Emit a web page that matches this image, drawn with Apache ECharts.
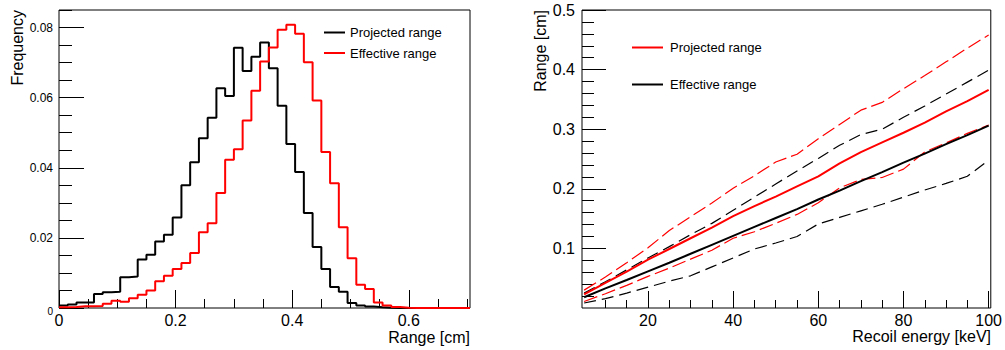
<!DOCTYPE html>
<html>
<head>
<meta charset="utf-8">
<script src="https://cdn.jsdelivr.net/npm/echarts@6/dist/echarts.min.js"></script>
<style>
html,body{margin:0;padding:0;background:#fff;}
#chart{width:1005px;height:350px;}
</style>
</head>
<body>
<div id="chart"></div>
<script>
// ---------- Data: left panel (histograms) ----------
const rangeBinWidth = 0.015; // cm, 47 bins from 0 to 0.705
const projectedRangeFreq = [
  0.0007, 0.0010, 0.0016, 0.0016, 0.0040, 0.0045, 0.0046, 0.0088, 0.0090, 0.0138,
  0.0152, 0.0190, 0.0209, 0.0258, 0.0350, 0.0416, 0.0484, 0.0543, 0.0627, 0.0605,
  0.0742, 0.0676, 0.0717, 0.0757, 0.0684, 0.0577, 0.0468, 0.0388, 0.0271, 0.0174,
  0.0111, 0.0060, 0.0046, 0.0014, 0.0007, 0.0004, 0.0002, 0.0001, 0, 0,
  0, 0, 0, 0, 0, 0, 0
];
const effectiveRangeFreq = [
  0.0002, 0.0003, 0.0005, 0.0005, 0.0006, 0.0012, 0.0021, 0.0018, 0.0028, 0.0038,
  0.0050, 0.0076, 0.0092, 0.0111, 0.0128, 0.0157, 0.0216, 0.0242, 0.0328, 0.0423,
  0.0453, 0.0535, 0.0620, 0.0703, 0.0743, 0.0794, 0.0808, 0.0782, 0.0701, 0.0592,
  0.0445, 0.0356, 0.0230, 0.0142, 0.0066, 0.0054, 0.0016, 0.0007, 0.0003, 0.0001,
  0, 0, 0, 0, 0, 0, 0
];
const leftXMajor = [0, 0.2, 0.4, 0.6];
const leftXMinor = [0.05,0.1,0.15,0.25,0.3,0.35,0.45,0.5,0.55,0.65,0.7];
const leftYMajor = [0, 0.02, 0.04, 0.06, 0.08];
const leftYMinor = [0.005,0.01,0.015,0.025,0.03,0.035,0.045,0.05,0.055,0.065,0.07,0.075,0.085];

// ---------- Data: right panel (range vs recoil energy) ----------
const recoilEnergy = [5,10,15,20,25,30,35,40,45,50,55,60,65,70,75,80,85,90,95,100];
const projectedMean  = [0.023,0.042,0.061,0.081,0.099,0.117,0.135,0.154,0.171,0.187,0.204,0.221,0.2425,0.2615,0.278,0.294,0.311,0.330,0.347,0.366];
const projectedUpper = [0.030,0.052,0.076,0.101,0.130,0.153,0.176,0.201,0.222,0.245,0.258,0.284,0.308,0.332,0.345,0.368,0.390,0.413,0.436,0.458];
const projectedLower = [0.011,0.024,0.038,0.053,0.067,0.082,0.097,0.117,0.128,0.142,0.157,0.1765,0.2017,0.2156,0.219,0.233,0.262,0.277,0.293,0.307];
const effectiveMean  = [0.018,0.033,0.047,0.0615,0.076,0.091,0.106,0.121,0.136,0.151,0.166,0.182,0.197,0.213,0.228,0.244,0.259,0.275,0.290,0.306];
const effectiveUpper = [0.025,0.044,0.064,0.084,0.103,0.123,0.142,0.164,0.186,0.208,0.230,0.251,0.273,0.291,0.300,0.320,0.339,0.359,0.379,0.399];
const effectiveLower = [0.0084,0.0156,0.025,0.035,0.045,0.054,0.069,0.084,0.099,0.109,0.120,0.141,0.152,0.163,0.174,0.186,0.198,0.209,0.221,0.248];
const rightXMajor = [20, 40, 60, 80, 100];
const rightXMinor = [10,15,25,30,35,45,50,55,65,70,75,85,90,95];
const rightYMajor = [0.1, 0.2, 0.3, 0.4, 0.5];
const rightYMinor = [0.02,0.04,0.06,0.08,0.12,0.14,0.16,0.18,0.22,0.24,0.26,0.28,0.32,0.34,0.36,0.38,0.42,0.44,0.46,0.48];

// ---------- Build ----------
const FONT = "'Liberation Sans', Arial, Helvetica, sans-serif";
function histPoints(vals) {
  const pts = vals.map((v, i) => [i * rangeBinWidth, v]);
  pts.push([vals.length * rangeBinWidth, vals[vals.length - 1]]);
  return pts;
}
function pairs(xs, ys) { return xs.map((x, i) => [x, ys[i]]); }

function makeAxis(gridIndex, pos, min, max, ticks, len, labels, labelOpts) {
  const ax = {
    type: 'value', gridIndex: gridIndex, position: pos, min: min, max: max,
    axisLine: { show: false },
    splitLine: { show: false },
    axisTick: { show: true, inside: true, length: len, customValues: ticks,
      lineStyle: { color: '#000', width: 1 } },
    axisLabel: labels ? Object.assign({ show: true, customValues: ticks, color: '#000',
      fontFamily: FONT }, labelOpts) : { show: false }
  };
  return ax;
}

const leftXMax = projectedRangeFreq.length * rangeBinWidth;
const chart = echarts.init(document.getElementById('chart'), null, { renderer: 'svg' });

const option = {
  backgroundColor: '#fff',
  animation: false,
  grid: [
    { left: 59, top: 10, width: 411, height: 298, show: true, borderColor: '#000', borderWidth: 1, backgroundColor: '#fff' },
    { left: 582, top: 10, width: 410, height: 298, show: true, borderColor: '#000', borderWidth: 1, backgroundColor: '#fff' }
  ],
  xAxis: [
    makeAxis(0, 'bottom', 0, leftXMax, leftXMajor, 18, true,
      { fontSize: 16, margin: 4, formatter: v => String(+(+v).toFixed(1)) }),
    makeAxis(0, 'bottom', 0, leftXMax, leftXMinor, 9, false),
    makeAxis(1, 'bottom', 4.5, 100.5, rightXMajor, 17, true,
      { fontSize: 16, margin: 4, formatter: v => String(Math.round(v)) }),
    makeAxis(1, 'bottom', 4.5, 100.5, rightXMinor, 8, false)
  ],
  yAxis: [
    makeAxis(0, 'left', 0, 0.085, leftYMajor, 25, true,
      { fontSize: 12, margin: 6,
        formatter: v => (+v === 0 ? '{s|0}' : (+v).toFixed(2)),
        rich: { s: { fontSize: 10, fontFamily: FONT, color: '#000', padding: [6, 0, 0, 0] } } }),
    makeAxis(0, 'left', 0, 0.085, leftYMinor, 13, false),
    makeAxis(1, 'left', 0, 0.5, rightYMajor, 24, true,
      { fontSize: 16, margin: 7, formatter: v => (+v).toFixed(1) }),
    makeAxis(1, 'left', 0, 0.5, rightYMinor, 12, false)
  ],
  series: [
    { name: 'Projected range', type: 'line', xAxisIndex: 0, yAxisIndex: 0, step: 'end',
      showSymbol: false, symbol: 'none', data: histPoints(projectedRangeFreq),
      lineStyle: { color: '#000', width: 2 }, itemStyle: { color: '#000' } },
    { name: 'Effective range', type: 'line', xAxisIndex: 0, yAxisIndex: 0, step: 'end',
      showSymbol: false, symbol: 'none', data: histPoints(effectiveRangeFreq),
      lineStyle: { color: '#ff0000', width: 2 }, itemStyle: { color: '#ff0000' } },

    { name: 'Projected range (upper)', type: 'line', xAxisIndex: 2, yAxisIndex: 2, symbol: 'none',
      data: pairs(recoilEnergy, projectedUpper), lineStyle: { color: '#ff0000', width: 1.2, type: [14, 5] } },
    { name: 'Effective range (upper)', type: 'line', xAxisIndex: 2, yAxisIndex: 2, symbol: 'none',
      data: pairs(recoilEnergy, effectiveUpper), lineStyle: { color: '#000', width: 1.2, type: [12, 6] } },
    { name: 'Projected range (lower)', type: 'line', xAxisIndex: 2, yAxisIndex: 2, symbol: 'none',
      data: pairs(recoilEnergy, projectedLower), lineStyle: { color: '#ff0000', width: 1.2, type: [14, 5] } },
    { name: 'Effective range (lower)', type: 'line', xAxisIndex: 2, yAxisIndex: 2, symbol: 'none',
      data: pairs(recoilEnergy, effectiveLower), lineStyle: { color: '#000', width: 1.2, type: [12, 6] } },
    { name: 'Projected range (mean)', type: 'line', xAxisIndex: 2, yAxisIndex: 2, symbol: 'none',
      data: pairs(recoilEnergy, projectedMean), lineStyle: { color: '#ff0000', width: 2 } },
    { name: 'Effective range (mean)', type: 'line', xAxisIndex: 2, yAxisIndex: 2, symbol: 'none',
      data: pairs(recoilEnergy, effectiveMean), lineStyle: { color: '#000', width: 2 } }
  ],
  graphic: [
    // axis titles
    { type: 'text', x: 470, y: 337, style: { text: 'Range [cm]', fill: '#000', font: '16px ' + FONT, align: 'right', verticalAlign: 'middle' } },
    { type: 'text', x: 17, y: 10, rotation: Math.PI / 2, style: { text: 'Frequency', fill: '#000', font: '16px ' + FONT, align: 'right', verticalAlign: 'middle' } },
    { type: 'text', x: 991, y: 336, style: { text: 'Recoil energy [keV]', fill: '#000', font: '16px ' + FONT, align: 'right', verticalAlign: 'middle' } },
    { type: 'text', x: 540, y: 10, rotation: Math.PI / 2, style: { text: 'Range [cm]', fill: '#000', font: '16px ' + FONT, align: 'right', verticalAlign: 'middle' } },
    // left legend
    { type: 'line', shape: { x1: 324, y1: 32.5, x2: 345, y2: 32.5 }, style: { stroke: '#000', lineWidth: 2 } },
    { type: 'text', x: 350, y: 32.5, style: { text: 'Projected range', fill: '#000', font: '13px ' + FONT, verticalAlign: 'middle' } },
    { type: 'line', shape: { x1: 324, y1: 53, x2: 345, y2: 53 }, style: { stroke: '#ff0000', lineWidth: 2 } },
    { type: 'text', x: 350, y: 53, style: { text: 'Effective range', fill: '#000', font: '13px ' + FONT, verticalAlign: 'middle' } },
    // right legend
    { type: 'line', shape: { x1: 632, y1: 47.5, x2: 663, y2: 47.5 }, style: { stroke: '#ff0000', lineWidth: 2 } },
    { type: 'text', x: 670, y: 47.5, style: { text: 'Projected range', fill: '#000', font: '13px ' + FONT, verticalAlign: 'middle' } },
    { type: 'line', shape: { x1: 632, y1: 84.5, x2: 663, y2: 84.5 }, style: { stroke: '#000', lineWidth: 2 } },
    { type: 'text', x: 670, y: 84.5, style: { text: 'Effective range', fill: '#000', font: '13px ' + FONT, verticalAlign: 'middle' } }
  ]
};
chart.setOption(option);
</script>
</body>
</html>
